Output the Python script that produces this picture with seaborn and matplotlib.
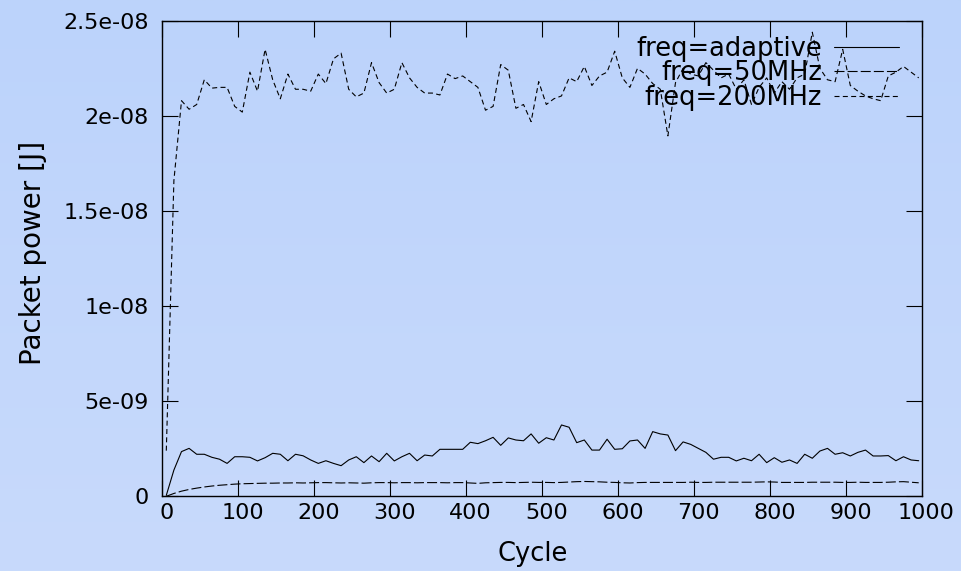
import numpy as np
import pandas as pd
import matplotlib
matplotlib.use("Agg")
import matplotlib.pyplot as plt
import matplotlib.transforms as mtransforms
from matplotlib.colors import LinearSegmentedColormap
import seaborn as sns

# ---- data ----
cycles = list(range(5, 1000, 10))

power_adaptive = [  # x 1e-9 J
    0.05, 1.38, 2.35, 2.52, 2.21, 2.21, 2.05, 1.95, 1.73, 2.08,
    2.08, 2.05, 1.86, 2.03, 2.26, 2.21, 1.87, 2.21, 2.13, 1.91,
    1.73, 1.87, 1.73, 1.61, 1.91, 2.08, 1.77, 2.12, 1.82, 2.26,
    1.86, 2.08, 2.26, 1.87, 2.17, 2.12, 2.47, 2.47, 2.47, 2.47,
    2.84, 2.77, 2.92, 3.10, 2.68, 3.07, 2.96, 2.92, 3.28, 2.79,
    3.08, 2.96, 3.75, 3.63, 2.82, 2.96, 2.43, 2.43, 3.00, 2.47,
    2.50, 2.91, 2.96, 2.52, 3.40, 3.28, 3.22, 2.40, 2.86, 2.73,
    2.52, 2.31, 1.95, 2.05, 2.05, 1.86, 2.00, 1.87, 2.21, 1.77,
    2.03, 1.79, 1.91, 1.73, 2.21, 2.00, 2.38, 2.52, 2.21, 2.29,
    2.12, 2.31, 2.43, 2.12, 2.12, 2.14, 1.87, 2.08, 1.91, 1.87,
]

power_50mhz = [  # x 1e-9 J
    0.00, 0.15, 0.27, 0.36, 0.43, 0.49, 0.54, 0.58, 0.61, 0.64,
    0.66, 0.67, 0.68, 0.69, 0.69, 0.70, 0.70, 0.71, 0.70, 0.71,
    0.72, 0.72, 0.71, 0.70, 0.71, 0.70, 0.69, 0.71, 0.72, 0.72,
    0.71, 0.72, 0.72, 0.71, 0.72, 0.72, 0.72, 0.71, 0.72, 0.72,
    0.70, 0.68, 0.71, 0.72, 0.73, 0.73, 0.72, 0.73, 0.74, 0.73,
    0.73, 0.72, 0.73, 0.75, 0.77, 0.78, 0.77, 0.76, 0.74, 0.73,
    0.71, 0.70, 0.72, 0.73, 0.73, 0.73, 0.73, 0.73, 0.73, 0.74,
    0.73, 0.73, 0.74, 0.74, 0.74, 0.74, 0.74, 0.74, 0.75, 0.76,
    0.75, 0.73, 0.73, 0.73, 0.73, 0.74, 0.74, 0.74, 0.74, 0.73,
    0.73, 0.74, 0.73, 0.73, 0.73, 0.74, 0.76, 0.77, 0.74, 0.71,
]

power_200mhz = [  # x 1e-8 J
    0.24, 1.66, 2.08, 2.035, 2.06, 2.19, 2.146, 2.15, 2.15, 2.05,
    2.02, 2.23, 2.13, 2.35, 2.19, 2.09, 2.22, 2.14, 2.14, 2.13,
    2.22, 2.17, 2.30, 2.33, 2.14, 2.10, 2.12, 2.28, 2.175, 2.12,
    2.14, 2.28, 2.20, 2.15, 2.12, 2.12, 2.11, 2.22, 2.196, 2.21,
    2.18, 2.15, 2.03, 2.05, 2.27, 2.24, 2.04, 2.06, 1.97, 2.18,
    2.06, 2.09, 2.105, 2.20, 2.18, 2.26, 2.16, 2.21, 2.23, 2.34,
    2.20, 2.15, 2.25, 2.22, 2.17, 2.14, 1.895, 2.175, 2.25, 2.22,
    2.21, 2.28, 2.24, 2.20, 2.22, 2.14, 2.19, 2.06, 2.15, 2.20,
    2.12, 2.18, 2.14, 2.20, 2.22, 2.44, 2.25, 2.19, 2.18, 2.35,
    2.16, 2.13, 2.105, 2.09, 2.08, 2.21, 2.23, 2.26, 2.23, 2.20,
]

series_labels = ["freq=adaptive", "freq=50MHz", "freq=200MHz"]
x_ticks = [0, 100, 200, 300, 400, 500, 600, 700, 800, 900, 1000]
y_ticks = [0, 5e-9, 1e-8, 1.5e-8, 2e-8, 2.5e-8]
y_tick_labels = ["0", "5e-09", "1e-08", "1.5e-08", "2e-08", "2.5e-08"]

df = pd.DataFrame({
    "cycle": cycles * 3,
    "power": [v * 1e-9 for v in power_adaptive]
             + [v * 1e-9 for v in power_50mhz]
             + [v * 1e-8 for v in power_200mhz],
    "series": [series_labels[0]] * len(cycles)
              + [series_labels[1]] * len(cycles)
              + [series_labels[2]] * len(cycles),
})

# ---- style ----
sns.set_theme(style="ticks")
plt.rcParams["font.family"] = ["DejaVu Sans"]
for k in ["text.color", "axes.labelcolor", "xtick.color", "ytick.color",
          "axes.edgecolor"]:
    plt.rcParams[k] = "black"

TICK_FS = 16
LABEL_FS = 18.5
YLABEL_FS = 20

W, H = 962, 571
fig = plt.figure(figsize=(W / 100, H / 100), dpi=100)

# gradient background
bg = fig.add_axes([0, 0, 1, 1], zorder=-10)
cmap_bg = LinearSegmentedColormap.from_list("bg", ["#bcd3fb", "#c8dafc"])
bg.imshow(np.linspace(0, 1, 256).reshape(-1, 1), aspect="auto", cmap=cmap_bg,
          extent=[0, 1, 0, 1], origin="upper")
bg.set_axis_off()

left, right = 162.5 / W, 922.5 / W
bottom, top = 1 - 496.3 / H, 1 - 20.8 / H
ax = fig.add_axes([left, bottom, right - left, top - bottom])
ax.set_facecolor("none")

lw = 0.8
styles = {
    series_labels[0]: "-",
    series_labels[1]: (0, (9, 2.8)),
    series_labels[2]: (0, (4.5, 3)),
}
for lab in series_labels:
    sub = df[df["series"] == lab]
    sns.lineplot(data=sub, x="cycle", y="power", ax=ax, color="black",
                 linewidth=lw, linestyle=styles[lab], label=lab,
                 estimator=None, sort=False)

ax.set_xlim(0, 1000)
ax.set_ylim(0, 2.5e-8)
ax.set_xticks(x_ticks)
ax.set_xticklabels([str(t) for t in x_ticks])
ax.set_yticks(y_ticks)
ax.set_yticklabels(y_tick_labels)
ax.tick_params(axis="both", which="major", direction="in", length=11.5,
               width=0.8, color="black", labelsize=TICK_FS, top=True,
               right=True, labelcolor="black")
ax.tick_params(axis="y", pad=10)
ax.tick_params(axis="x", pad=5)
shift = mtransforms.ScaledTranslation(4 / 100, 0, fig.dpi_scale_trans)
for t in ax.get_xticklabels():
    t.set_transform(t.get_transform() + shift)
for sp in ax.spines.values():
    sp.set_visible(True)
    sp.set_color("black")
    sp.set_linewidth(1.0)

ax.set_xlabel("Cycle", fontsize=LABEL_FS, color="black")
ax.set_ylabel("Packet power [J]", fontsize=YLABEL_FS, color="black")
ax.xaxis.set_label_coords((533 - 162.5) / 760, -(541 - 496.3) / 475.5)
ax.yaxis.set_label_coords((47 - 162.5) / 760, (496.3 - 253) / 475.5)
ax.grid(False)

leg = ax.legend(loc="upper right",
                bbox_to_anchor=(899 / W, 1 - 36 / H),
                bbox_transform=fig.transFigure,
                frameon=False, markerfirst=False, handlelength=2.52,
                handletextpad=0.47, labelspacing=-0.06, fontsize=LABEL_FS,
                borderpad=0, borderaxespad=0)
for t in leg.get_texts():
    t.set_color("black")

fig.savefig("out.png", dpi=100)
